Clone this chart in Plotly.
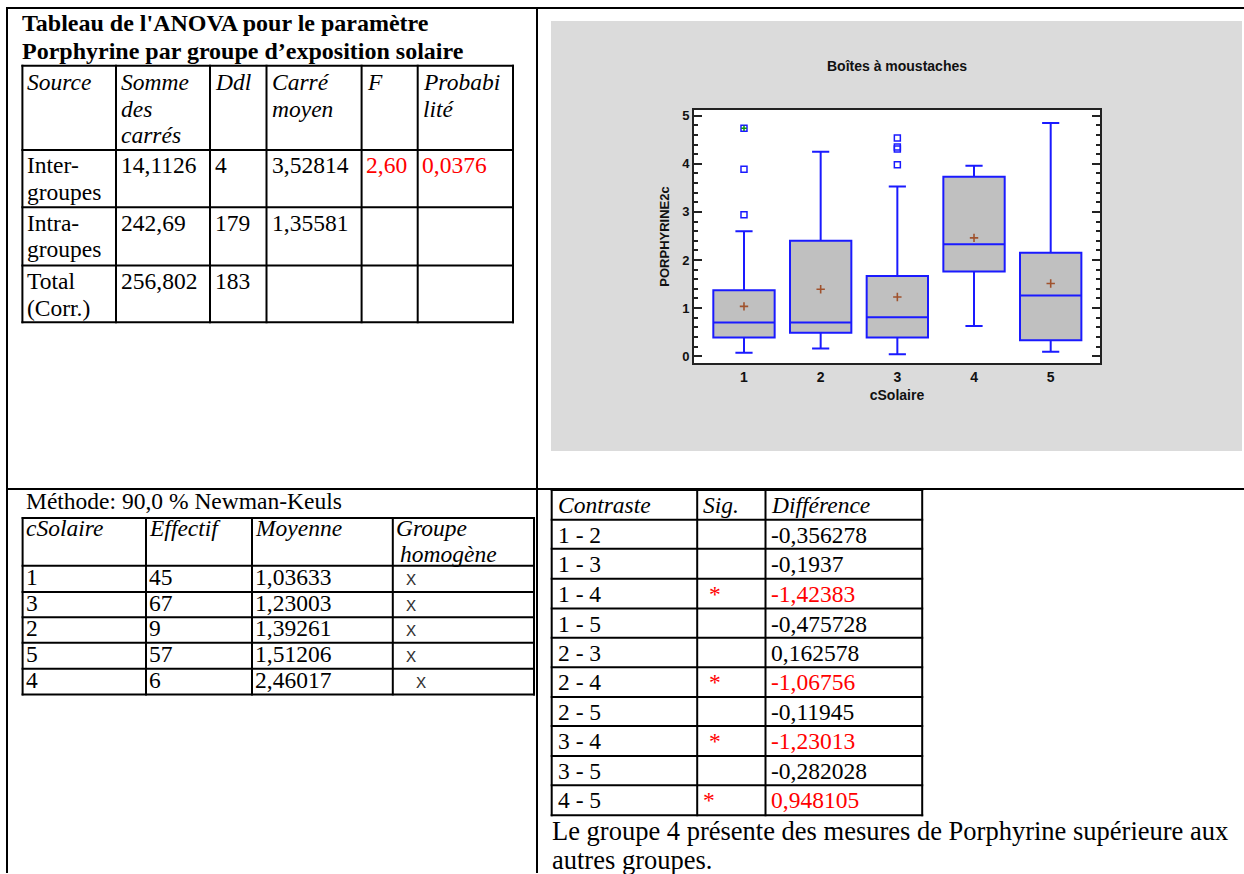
import plotly.graph_objects as go

W, H = 1244, 874
SERIF = "Liberation Serif, Times New Roman, serif"
SANS = "Liberation Sans, Arial, sans-serif"
MONO = "Liberation Mono, Courier New, monospace"
FS = 23.5
RED = "#FF0000"
BLUE = "#1a1aff"

# ---------------- data ----------------
# ANOVA table
anova_header = [["Source"], ["Somme", "des", "carrés"], ["Ddl"], ["Carré", "moyen"], ["F"], ["Probabi", "lité"]]
anova_source = [["Inter-", "groupes"], ["Intra-", "groupes"], ["Total", "(Corr.)"]]
anova_ss = [14.1126, 242.69, 256.802]
anova_df = [4, 179, 183]
anova_ms = [3.52814, 1.35581, None]
anova_f = ["2,60", "", ""]
anova_p = [0.0376, None, None]

# Newman-Keuls table
nk_header = [["cSolaire"], ["Effectif"], ["Moyenne"], ["Groupe", "homogène"]]
nk_group = [1, 3, 2, 5, 4]
nk_n = [45, 67, 9, 57, 6]
nk_mean = [1.03633, 1.23003, 1.39261, 1.51206, 2.46017]
nk_homog_col = [0, 0, 0, 0, 1]

# Contrasts
contrast_header = ["Contraste", "Sig.", "Différence"]
contrast_label = ["1 - 2", "1 - 3", "1 - 4", "1 - 5", "2 - 3", "2 - 4", "2 - 5", "3 - 4", "3 - 5", "4 - 5"]
contrast_sig = [False, False, True, False, False, True, False, True, False, True]
contrast_diff = [-0.356278, -0.1937, -1.42383, -0.475728, 0.162578, -1.06756, -0.11945, -1.23013, -0.282028, 0.948105]
conclusion = ["Le groupe 4 présente des mesures de Porphyrine supérieure aux", "autres groupes."]

# Box plot (PORPHYRINE2c by cSolaire)
groups = [1, 2, 3, 4, 5]
q1 = [0.39, 0.49, 0.39, 1.76, 0.33]
median = [0.70, 0.70, 0.81, 2.33, 1.26]
q3 = [1.37, 2.40, 1.67, 3.73, 2.15]
lower_whisker = [0.07, 0.16, 0.04, 0.63, 0.09]
upper_whisker = [2.60, 4.25, 3.53, 3.96, 4.85]
outlier_group = [1, 1, 1, 3, 3, 3, 3]
outlier_value = [2.94, 3.89, 4.74, 3.98, 4.31, 4.35, 4.54]
far_group = [1]
far_value = [4.74]
mean_by_group = [dict(zip(nk_group, nk_mean))[g] for g in groups]


def fr(v):
    return "" if v is None else str(v).replace(".", ",")


fig = go.Figure()

# ---------------- box plot ----------------
fig.add_trace(go.Box(
    x=groups, q1=q1, median=median, q3=q3,
    lowerfence=lower_whisker, upperfence=upper_whisker,
    width=0.8, whiskerwidth=0.28, boxpoints=False,
    fillcolor="#C0C0C0", line=dict(color=BLUE, width=2),
    hoverinfo="skip", showlegend=False,
))
fig.add_trace(go.Scatter(
    x=outlier_group, y=outlier_value, mode="markers", showlegend=False,
    marker=dict(symbol="square-open", size=6, color=BLUE, line=dict(color=BLUE, width=1.5)),
))
fig.add_trace(go.Scatter(
    x=far_group, y=far_value, mode="markers", showlegend=False,
    marker=dict(symbol="cross-thin", size=4, color="#109010", line=dict(color="#109010", width=1.5)),
))
fig.add_trace(go.Scatter(
    x=groups, y=mean_by_group, mode="markers", showlegend=False,
    marker=dict(symbol="cross-thin", size=6, color="#A0522D", line=dict(color="#A0522D", width=1.6)),
))

FRAME = "#222222"
fig.update_layout(
    width=W, height=H, margin=dict(l=0, r=0, t=0, b=0),
    paper_bgcolor="white", plot_bgcolor="rgba(0,0,0,0)",
    showlegend=False,
    title=dict(text="Boîtes à moustaches", x=897 / W, y=1 - 66 / H, xanchor="center", yanchor="middle",
               font=dict(family=SANS, size=14, color="#111", weight="bold")),
    xaxis=dict(domain=[694 / W, 1100 / W], range=[0.348, 5.643],
               tickvals=groups, ticktext=[str(g) for g in groups], ticks="",
               tickfont=dict(family=SANS, size=14, color="#111", weight="bold"),
               showline=True, mirror=True, linecolor=FRAME, linewidth=2,
               showgrid=False, zeroline=False,
               title=dict(text="cSolaire", font=dict(family=SANS, size=14, color="#111", weight="bold"), standoff=6)),
    yaxis=dict(domain=[1 - 363 / H, 1 - 109 / H], range=[-0.145, 5.125],
               tickvals=[0, 1, 2, 3, 4, 5], ticks="inside", ticklen=8, tickwidth=1.5, tickcolor=FRAME,
               minor=dict(ticks="inside", ticklen=4, tickwidth=1.5, tickcolor=FRAME, dtick=0.2, tick0=0, showgrid=False),
               tickfont=dict(family=SANS, size=13, color="#111", weight="bold"),
               showline=True, mirror="allticks", linecolor=FRAME, linewidth=2,
               showgrid=False, zeroline=False,
               title=dict(text="PORPHYRINE2c", font=dict(family=SANS, size=13, color="#111", weight="bold"), standoff=10)),
)

shapes = []
# grey chart panel and white plot area
shapes.append(dict(type="rect", xref="paper", yref="paper", x0=551 / W, x1=1242 / W, y0=1 - 451 / H, y1=1 - 20 / H,
                   fillcolor="#DBDBDB", line=dict(width=0), layer="below"))
shapes.append(dict(type="rect", xref="paper", yref="paper", x0=694 / W, x1=1100 / W, y0=1 - 363 / H, y1=1 - 109 / H,
                   fillcolor="white", line=dict(width=0), layer="below"))


def hline(y, x0, x1, w=2):
    shapes.append(dict(type="line", xref="paper", yref="paper", x0=x0 / W, x1=x1 / W, y0=1 - y / H, y1=1 - y / H,
                       line=dict(color="black", width=w)))


def vline(x, y0, y1, w=2):
    shapes.append(dict(type="line", xref="paper", yref="paper", x0=x / W, x1=x / W, y0=1 - y0 / H, y1=1 - y1 / H,
                       line=dict(color="black", width=w)))


def grid(cols, rows):
    for y in rows:
        hline(y, cols[0] - 1, cols[-1] + 1)
    for x in cols:
        vline(x, rows[0] - 1, rows[-1] + 1)


ann = []


def T(x, baseline, text, size=FS, color="black", family=SERIF, weight="normal", style="normal", xanchor="left"):
    k = 0.3375 if family == SERIF else (0.2665 if family == MONO else 0.3465)
    yc = baseline - k * size
    xx = x - 2 if xanchor == "left" else x
    ann.append(dict(x=xx / W, y=1 - yc / H, xref="paper", yref="paper", text=text, showarrow=False,
                    xanchor=xanchor, yanchor="middle",
                    font=dict(family=family, size=size, color=color, weight=weight, style=style)))


# outer document grid
hline(7, 6, 1244)
vline(7, 6, 874)
vline(537, 6, 874)
hline(489, 6, 1244)

# ---------------- ANOVA table ----------------
T(22.4, 30, "Tableau de l'ANOVA pour le paramètre", size=24, weight="bold")
T(22.4, 58.5, "Porphyrine par groupe d’exposition solaire", size=24, weight="bold")
a_cols = [22.4, 116, 210, 266.5, 361.6, 417.7, 513]
a_rows = [65, 149.3, 206.7, 265, 322]
grid(a_cols, a_rows)
LS = 26.7
for ci, lines in enumerate(anova_header):
    for li, line in enumerate(lines):
        T(a_cols[ci] + 5, a_rows[0] + 24 + li * LS, line, style="italic")
for ri in range(3):
    base = a_rows[ri + 1] + 23.5
    for li, line in enumerate(anova_source[ri]):
        T(a_cols[0] + 5, base + li * LS, line)
    T(a_cols[1] + 5, base, fr(anova_ss[ri]))
    T(a_cols[2] + 5, base, str(anova_df[ri]))
    T(a_cols[3] + 5, base, fr(anova_ms[ri]))
    T(a_cols[4] + 4, base, anova_f[ri], color=RED)
    T(a_cols[5] + 4, base, fr(anova_p[ri]), color=RED)

# ---------------- Newman-Keuls table ----------------
T(26, 509, "Méthode: 90,0 % Newman-Keuls")
n_cols = [22.6, 146, 252, 392.8, 534]
n_rows = [518.3, 566, 592.3, 617.7, 643.3, 669.3, 695]
grid(n_cols, n_rows)
for ci, lines in enumerate(nk_header):
    for li, line in enumerate(lines):
        T(n_cols[ci] + (3 if li == 0 else 7), 536 + li * 25.7, line, style="italic")
for ri in range(5):
    base = n_rows[ri + 1] + 19
    T(n_cols[0] + 3, base, str(nk_group[ri]))
    T(n_cols[1] + 3, base, str(nk_n[ri]))
    T(n_cols[2] + 3, base, fr(nk_mean[ri]))
    T(406 + 10.4 * nk_homog_col[ri], base, "X", size=17, color="#333", family=MONO)

# ---------------- Contrast table ----------------
c_cols = [551.7, 697.2, 765.5, 922.2]
c_rows = [490, 520, 549, 579, 609, 638.3, 667.7, 697.7, 726.7, 756.7, 786, 816]
grid(c_cols, c_rows)
for ci, h in enumerate(contrast_header):
    T(c_cols[ci] + 6, c_rows[0] + 23, h, style="italic")
for ri in range(10):
    base = c_rows[ri + 1] + 23
    sig = contrast_sig[ri]
    T(c_cols[0] + 6, base, contrast_label[ri])
    if sig:
        T(714.6 if ri < 9 else 708.8, base, "*", color=RED, xanchor="center")
    T(c_cols[2] + 6, base, fr(contrast_diff[ri]), color=RED if sig else "black")

T(552, 840.7, conclusion[0], size=26.5)
T(552, 869.7, conclusion[1], size=26.5)

fig.update_layout(shapes=shapes, annotations=ann)

fig.write_html("out.html", config={"displayModeBar": False},
               post_script="document.body.style.margin='0';document.body.style.overflow='hidden';")
